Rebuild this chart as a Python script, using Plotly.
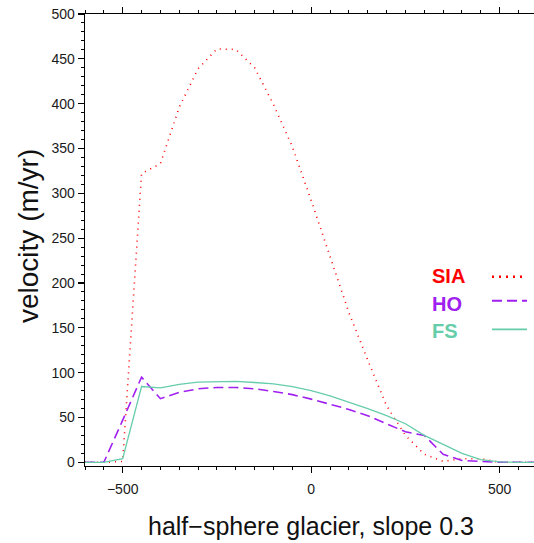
import plotly.graph_objects as go

# ---- data ----
x_pos = [-600, -550, -500, -450, -400, -350, -300, -250, -200, -150, -100, -50,
         0, 50, 100, 150, 200, 250, 300, 350, 400, 450, 500, 550, 600]
sia = [0, 0, 1, 322, 333, 396, 439, 461, 460.5, 440, 399, 352,
       292, 229, 167, 114, 63, 30, 9, 1, 4, 4, 0, 0, 0]
ho = [0, 0, 47, 95, 71, 78, 82, 83.5, 83.5, 82, 79, 75.5,
      70.5, 65, 59, 52, 43, 34, 30, 9, 2, 1, 0, 0, 0]
fs = [0, 0, 4, 84.5, 83, 87, 89.5, 90, 90.2, 89, 87.5, 84.5,
      80, 74, 67, 60, 52, 43, 30, 20, 10, 3, 0.5, 0, 0]

series_names = ["SIA", "HO", "FS"]
series_colors = ["#FF0000", "#A020F0", "#66CDAA"]
series_dash = ["1px,5px", "10px,5px", "solid"]
series_width = [1.6, 1.6, 1.3]

x_title = "half\u2212sphere glacier, slope 0.3"
y_title = "velocity (m/yr)"

W, H = 534, 543
ML, MR, MT, MB = 85, 0, 14, 77
PW, PH = W - ML - MR, H - MT - MB


def px_x(p):
    return (p - ML) / PW


def px_y(p):
    return (H - MB - p) / PH


fig = go.Figure()
for name, ys, col, dash, lw in zip(series_names, [sia, ho, fs], series_colors,
                                   series_dash, series_width):
    fig.add_trace(go.Scatter(x=x_pos, y=ys, mode="lines", name=name,
                             line=dict(color=col, dash=dash, width=lw),
                             showlegend=False))

font_family = "Liberation Sans, Arial, sans-serif"

fig.update_layout(
    width=W, height=H,
    margin=dict(l=ML, r=MR, t=MT, b=MB, pad=0),
    paper_bgcolor="white", plot_bgcolor="white",
    font=dict(family=font_family, color="#1a1a1a", size=14),
    xaxis=dict(range=[-600, 591], tick0=0, dtick=500, showgrid=False,
               zeroline=False, showline=True, linecolor="black", linewidth=1.3,
               mirror="ticks", ticks="outside", ticklen=6, tickwidth=1.2,
               tickcolor="black", tickfont=dict(size=14), ticklabelstandoff=4,
               minor=dict(dtick=50, ticks="outside", ticklen=3, tickwidth=1,
                          tickcolor="black")),
    yaxis=dict(range=[-4.1, 500], tick0=0, dtick=50, showgrid=False,
               zeroline=False, showline=True, linecolor="black", linewidth=1.3,
               ticks="outside", ticklen=6, tickwidth=1.2, tickcolor="black",
               tickfont=dict(size=14),
               minor=dict(dtick=10, ticks="outside", ticklen=3, tickwidth=1,
                          tickcolor="black")),
)

annots = [
    dict(text=x_title, x=px_x(311), y=px_y(526), xref="paper", yref="paper",
         xanchor="center", yanchor="middle", showarrow=False,
         font=dict(size=25, family=font_family, color="#111111")),
    dict(text=y_title, x=px_x(28), y=px_y(236), xref="paper", yref="paper",
         xanchor="center", yanchor="middle", showarrow=False, textangle=-90,
         font=dict(size=28, family=font_family, color="#111111")),
]
leg_text_y = [275.5, 302.5, 329.5]
leg_line_y = [276.7, 300.7, 329.3]
for name, col, ty in zip(series_names, series_colors, leg_text_y):
    annots.append(dict(text="<b>%s</b>" % name, x=px_x(430), y=px_y(ty + 1),
                       xref="paper", yref="paper", xanchor="left",
                       yanchor="middle", showarrow=False,
                       font=dict(size=20, family=font_family, color=col)))
fig.update_layout(annotations=annots)

for col, dash, lw, ly in zip(series_colors, series_dash, series_width, leg_line_y):
    fig.add_shape(type="line", xref="paper", yref="paper",
                  x0=px_x(492), x1=px_x(527), y0=px_y(ly), y1=px_y(ly),
                  line=dict(color=col, dash=dash if dash != "1px,5px" else "2px,5px",
                            width=lw + (1 if dash == "1px,5px" else 0.5)))

fig.write_html("out.html",
               config={"displayModeBar": False, "staticPlot": True},
               post_script="document.body.style.margin='0';"
                           "document.body.style.overflow='hidden';")
